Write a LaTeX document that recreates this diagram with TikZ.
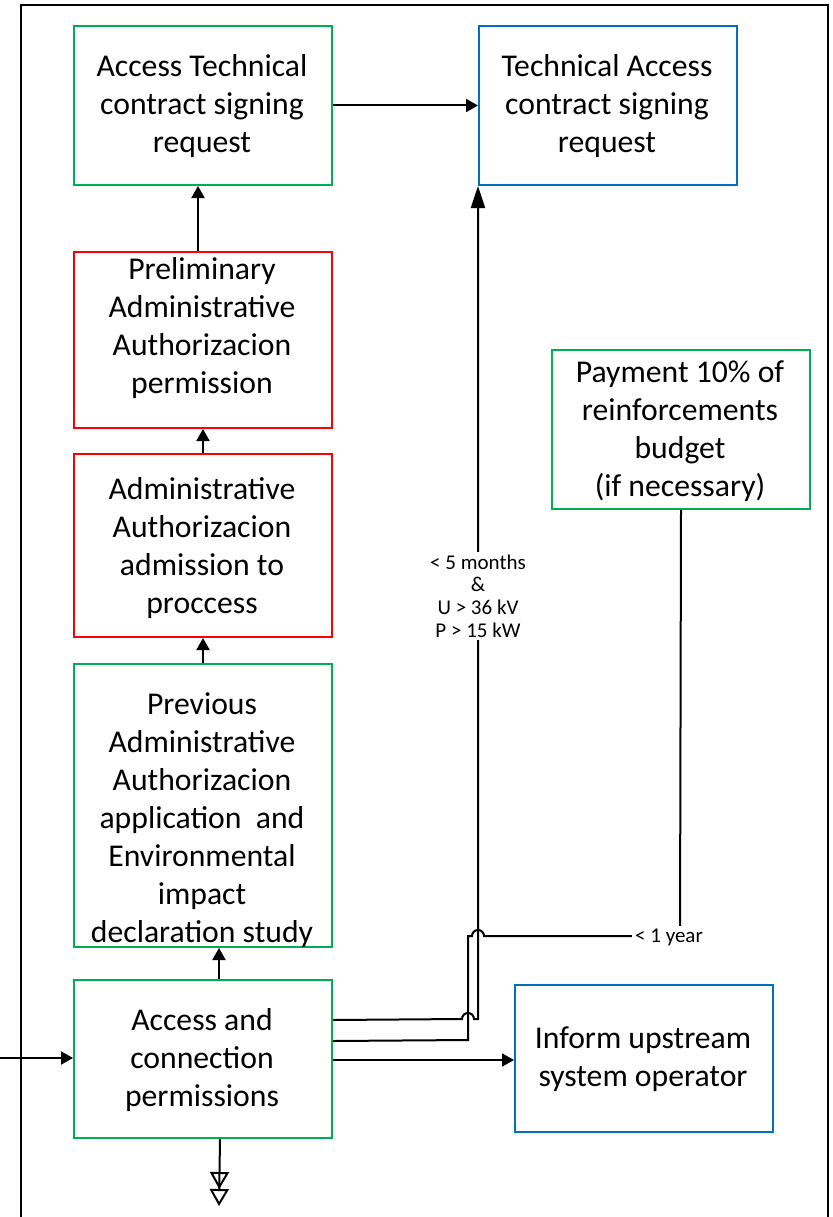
\documentclass[tikz,border=0pt]{standalone}
\usepackage{fontspec}
\setmainfont{Carlito}
\usetikzlibrary{arrows.meta}
\definecolor{boxgreen}{HTML}{00B050}
\definecolor{boxred}{HTML}{FF0000}
\definecolor{boxblue}{HTML}{0070C0}
\newcommand\boxfont{\fontsize{31.7pt}{38pt}\selectfont}
\newcommand\lblfont{\fontsize{21pt}{22.7pt}\selectfont}
\begin{document}
\begin{tikzpicture}[x=1pt,y=-1pt,line width=2pt,
  box/.style={draw,rectangle,inner sep=0pt,anchor=north west,
    minimum width=258pt},
  % texts are placed by the baseline of their last line
  txt/.style={font=\boxfont,align=center,anchor=base,inner sep=0pt},
  lbl/.style={font=\lblfont,align=center,fill=white,inner sep=3pt},
  arr/.style={-{Triangle[length=12pt,width=13pt]}},
  longarr/.style={-{Triangle[length=22pt,width=14pt]}},
  outarr/.style={-{Triangle[open,length=17pt,width=19pt,sep=0pt]
    Triangle[open,length=17pt,width=19pt]}}]
\useasboundingbox (0,0) rectangle (832,1217);

% outer frame, open at the bottom
\draw (21,1217) -- (21,5) -- (828,5) -- (828,1217);

% boxes
\node[box,boxgreen,minimum height=159pt] (b1) at (73,25) {};
\node[box,boxblue,minimum height=159pt] (b2) at (478,25) {};
\node[box,boxred,minimum height=176pt] (b3) at (73,251) {};
\node[box,boxred,minimum height=183pt] (b4) at (73,453) {};
\node[box,boxgreen,minimum height=283pt] (b5) at (73,663) {};
\node[box,boxgreen,minimum height=158pt] (b6) at (73,979) {};
\node[box,boxblue,minimum height=147pt] (b7) at (514,984) {};
\node[box,boxgreen,minimum height=159pt] (b8) at (551,349) {};

% box texts
\node[txt] (t1) at (202,153) {Access Technical\\contract signing\\request};
\node[txt] (t2) at (607,153) {Technical Access\\contract signing\\request};
\node[txt] (t3) at (202,393) {Preliminary\\Administrative\\Authorizacion\\permission};
\node[txt] (t4) at (202,613) {Administrative\\Authorizacion\\admission to\\proccess};
\node[txt] (t5) at (202,942) {Previous\\Administrative\\Authorizacion\\application\ \ and\\Environmental\\impact\\declaration study};
\node[txt] (t6) at (202,1106) {Access and\\connection\\permissions};
\node[txt] (t7) at (643,1086) {Inform upstream\\system operator};
\node[txt] (t8) at (680,496) {Payment 10\% of\\reinforcements\\budget\\(if necessary)};

% straight connectors
\draw[arr] (b1.east) -- (b2.west);
\draw[arr] ([xshift=-5pt]b3.north) -- ([xshift=-5pt]b1.south);
\draw[arr] (b4.north) -- (b3.south);
\draw[arr] (b5.north) -- (b4.south);
\draw[arr] ([xshift=16pt]b6.north) -- ([xshift=16pt]b5.south);
\coordinate (in) at (0,1058);
\draw[arr] (in) -- (in -| b6.west);
\draw[arr] ([yshift=-1pt]b6.east) -- ([yshift=-1pt]b6.east -| b7.west);

% route to the technical access request, hopping over the return line
\draw[longarr] ([yshift=39pt]b6.east) -- (462,1019)
  arc[start angle=180,end angle=360,radius=6] -- (478,1019)
  -- (b2.south west);

% return line from the payment box, hopping over the route above
\draw (b8.south) -- (680,936) -- (484,936)
  arc[start angle=0,end angle=-180,radius=6] -- (468,936)
  -- (468,1040) -- ([yshift=18pt]b6.east);

% output downwards
\coordinate (out) at (219,1206);
\draw[outarr] ([xshift=17pt]b6.south) -- (out);

% condition labels
\node[lbl] (cond) at (478,596) {< 5 months\\\&\\U > 36 kV\\P > 15 kW};
\node[lbl] (yr) at (669,937) {< 1 year};
\end{tikzpicture}
\end{document}
